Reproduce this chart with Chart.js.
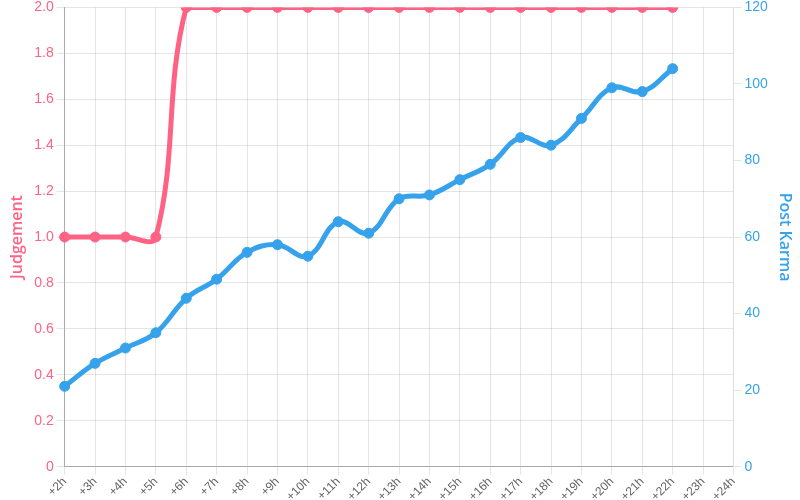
<!DOCTYPE html>
<html>
<head>
<meta charset="utf-8">
<script src="https://cdn.jsdelivr.net/npm/chart.js@4/dist/chart.umd.min.js"></script>
<style>
html,body{margin:0;padding:0;background:#fff;overflow:hidden;}
#wrap{width:800px;height:500px;overflow:hidden;}
#c{display:block;margin-top:-4px;}
</style>
</head>
<body>
<div id="wrap"><canvas id="c" width="800" height="504"></canvas></div>
<script>
const labels = ["+2h","+3h","+4h","+5h","+6h","+7h","+8h","+9h","+10h","+11h","+12h","+13h","+14h","+15h","+16h","+17h","+18h","+19h","+20h","+21h","+22h","+23h","+24h"];
const judgement = [1,1,1,1,2,2,2,2,2,2,2,2,2,2,2,2,2,2,2,2,2];
const postKarma = [21,27,31,35,44,49,56,58,55,64,61,70,71,75,79,86,84,91,99,98,104];

const RED = "#ff6384", BLUE = "#36a2eb";
Chart.defaults.font.family = "'Liberation Sans', Arial, sans-serif";
Chart.defaults.color = "#666";

new Chart(document.getElementById("c"), {
  type: "line",
  data: {
    labels: labels,
    datasets: [
      {label: "Judgement", data: judgement, yAxisID: "y", borderColor: RED, backgroundColor: RED,
       borderWidth: 5, pointRadius: 5, pointBorderWidth: 1, tension: 0.4, fill: false},
      {label: "Post Karma", data: postKarma, yAxisID: "y1", borderColor: BLUE, backgroundColor: BLUE,
       borderWidth: 5, pointRadius: 5, pointBorderWidth: 1, tension: 0.4, fill: false}
    ]
  },
  options: {
    responsive: false,
    animation: false,
    layout: {padding: {top: 0, right: 2, bottom: -4, left: 4}},
    plugins: {legend: {display: false}, tooltip: {enabled: false}},
    scales: {
      x: {
        grid: {color: "rgba(0,0,0,0.1)"},
        border: {color: "#aaa"},
        ticks: {maxRotation: 45, minRotation: 45, padding: 0, font: {size: 12}, color: "#666"}
      },
      y: {
        position: "left", min: 0, max: 2,
        ticks: {stepSize: 0.2, color: RED, font: {size: 14},
                callback: v => v === 0 ? "0" : v.toFixed(1)},
        grid: {color: "rgba(0,0,0,0.1)"},
        border: {color: "#aaa"},
        title: {display: true, text: "Judgement", color: RED, font: {family: "'Open Sans', sans-serif", size: 16, weight: "600"}}
      },
      y1: {
        position: "right", min: 0, max: 120,
        ticks: {stepSize: 20, color: BLUE, font: {size: 14}},
        grid: {drawOnChartArea: false},
        border: {color: "#ddd"},
        title: {display: true, text: "Post Karma", color: BLUE, font: {family: "'Open Sans', sans-serif", size: 16, weight: "600"}}
      }
    }
  }
});
</script>
</body>
</html>
